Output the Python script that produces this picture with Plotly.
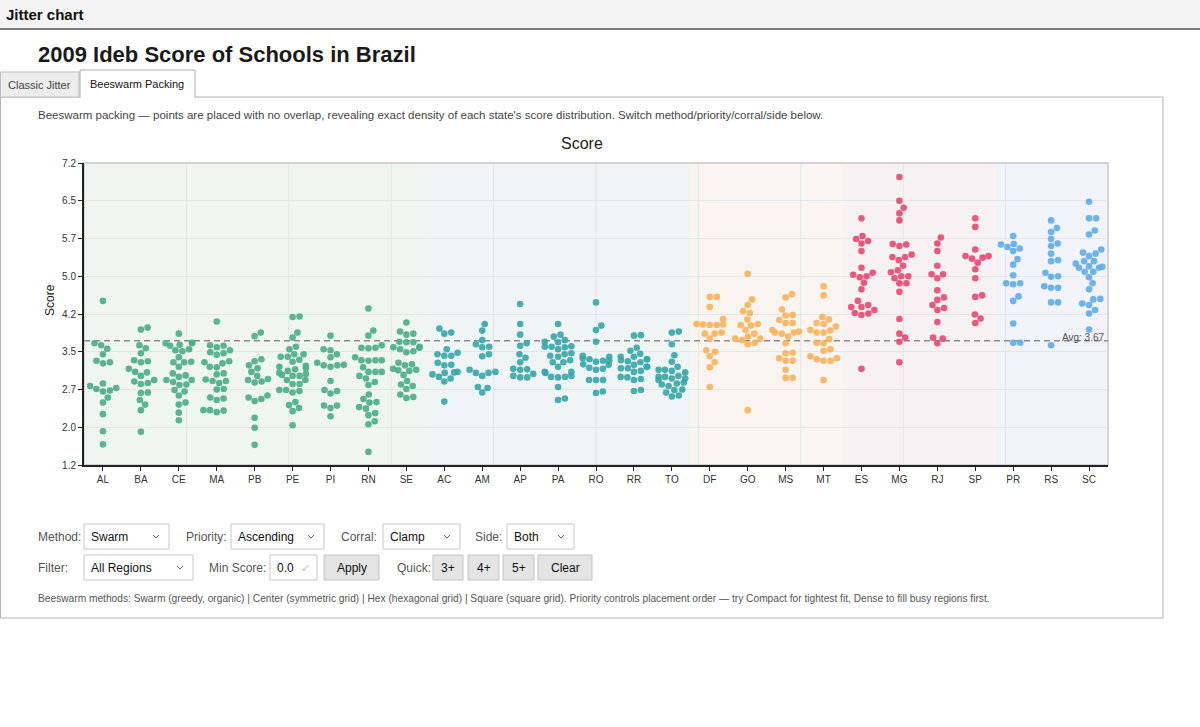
import math
import plotly.graph_objects as go

# ---------------- data ----------------
STATES = ["AL", "BA", "CE", "MA", "PB", "PE", "PI", "RN", "SE",
          "AC", "AM", "AP", "PA", "RO", "RR", "TO",
          "DF", "GO", "MS", "MT",
          "ES", "MG", "RJ", "SP",
          "PR", "RS", "SC"]
STATE_REGION = ["Northeast"] * 9 + ["North"] * 7 + ["Center-West"] * 4 + ["Southeast"] * 4 + ["South"] * 3
REGIONS = ["Northeast", "North", "Center-West", "Southeast", "South"]
REGION_COLORS = ["#4dae8b", "#3aa7a9", "#f8b35d", "#e84c73", "#62aee9"]
REGION_BANDS = ["#eff5f1", "#eff4f5", "#f8f4ef", "#f6f1f2", "#f1f3f8"]

AL = [4.46, 3.62, 3.58, 3.51, 3.40, 3.27, 3.24, 3.22, 2.82, 2.77, 2.73, 2.71, 2.68, 2.66, 2.54, 2.44, 2.21, 1.87, 1.61]
BA = [3.93, 3.89, 3.58, 3.52, 3.42, 3.28, 3.26, 3.24, 3.11, 3.05, 3.04, 2.97, 2.89, 2.86, 2.83, 2.81, 2.64, 2.63, 2.49, 2.40, 2.29, 1.86]
CE = [3.81, 3.63, 3.62, 3.62, 3.59, 3.57, 3.50, 3.48, 3.46, 3.34, 3.25, 3.24, 3.24, 3.15, 3.02, 2.98, 2.95, 2.89, 2.89, 2.85, 2.80, 2.79, 2.69, 2.66, 2.58, 2.44, 2.40, 2.24, 2.09]
MA = [4.05, 3.58, 3.57, 3.54, 3.48, 3.44, 3.42, 3.39, 3.26, 3.24, 3.22, 3.15, 3.14, 3.02, 3.00, 2.90, 2.87, 2.87, 2.83, 2.71, 2.70, 2.54, 2.52, 2.49, 2.29, 2.29, 2.28, 2.25]
PB = [3.83, 3.76, 3.30, 3.26, 3.18, 3.12, 3.05, 2.97, 2.91, 2.89, 2.86, 2.84, 2.58, 2.54, 2.51, 2.47, 2.14, 1.94, 1.60]
PE = [4.15, 4.14, 3.83, 3.73, 3.55, 3.50, 3.40, 3.40, 3.35, 3.35, 3.29, 3.25, 3.17, 3.15, 3.12, 3.10, 3.07, 3.03, 3.01, 2.99, 2.97, 2.97, 2.89, 2.89, 2.81, 2.81, 2.69, 2.69, 2.67, 2.64, 2.45, 2.39, 2.33, 2.27, 1.99]
PI = [3.77, 3.50, 3.48, 3.40, 3.34, 3.23, 3.19, 3.18, 3.18, 3.15, 2.87, 2.69, 2.67, 2.62, 2.38, 2.38, 2.33, 2.17]
RN = [4.31, 3.87, 3.77, 3.58, 3.53, 3.53, 3.52, 3.34, 3.28, 3.28, 3.28, 3.27, 3.14, 3.05, 3.05, 3.05, 2.97, 2.92, 2.85, 2.79, 2.60, 2.51, 2.45, 2.44, 2.35, 2.32, 2.23, 2.19, 2.07, 2.01, 1.46]
SE = [4.03, 3.85, 3.81, 3.79, 3.65, 3.64, 3.64, 3.55, 3.54, 3.53, 3.50, 3.46, 3.44, 3.23, 3.20, 3.18, 3.11, 3.09, 3.08, 3.07, 2.99, 2.87, 2.80, 2.77, 2.71, 2.60, 2.55, 2.53]
AC = [3.91, 3.83, 3.81, 3.50, 3.43, 3.40, 3.37, 3.37, 3.23, 3.19, 3.18, 3.05, 3.04, 3.03, 3.00, 2.95, 2.92, 2.86, 2.46]
AM = [4.00, 3.87, 3.68, 3.60, 3.55, 3.54, 3.40, 3.36, 3.09, 3.05, 3.03, 3.03, 2.97, 2.75, 2.73, 2.64]
AP = [4.40, 4.00, 3.79, 3.62, 3.57, 3.40, 3.33, 3.24, 3.11, 3.10, 3.09, 3.01, 2.97, 2.94, 2.94]
PA = [4.00, 3.79, 3.75, 3.68, 3.65, 3.64, 3.56, 3.55, 3.55, 3.54, 3.50, 3.42, 3.40, 3.37, 3.35, 3.28, 3.24, 3.24, 3.15, 3.05, 3.05, 3.03, 2.97, 2.95, 2.95, 2.94, 2.75, 2.52, 2.49]
RO = [4.43, 3.97, 3.88, 3.65, 3.37, 3.35, 3.32, 3.30, 3.27, 3.27, 3.25, 3.20, 3.19, 3.13, 3.11, 3.09, 2.89, 2.89, 2.89, 2.66, 2.63]
RR = [3.78, 3.77, 3.53, 3.47, 3.41, 3.35, 3.35, 3.30, 3.30, 3.28, 3.26, 3.24, 3.19, 3.15, 3.15, 3.12, 3.12, 3.07, 3.05, 2.95, 2.94, 2.91, 2.89, 2.69, 2.67]
TO = [3.85, 3.83, 3.60, 3.38, 3.25, 3.15, 3.09, 3.09, 3.07, 3.04, 2.97, 2.95, 2.95, 2.92, 2.92, 2.89, 2.84, 2.82, 2.80, 2.77, 2.70, 2.69, 2.64, 2.58, 2.56]
DF = [4.54, 4.54, 4.34, 4.10, 4.00, 3.99, 3.99, 3.98, 3.98, 3.83, 3.81, 3.81, 3.71, 3.48, 3.45, 3.36, 3.24, 3.14, 2.75]
GO = [5.00, 4.49, 4.38, 4.26, 4.22, 4.09, 4.00, 3.98, 3.97, 3.88, 3.81, 3.75, 3.71, 3.71, 3.68, 3.63, 3.60, 2.29]
MS = [4.59, 4.53, 4.29, 4.18, 4.17, 4.08, 4.02, 4.02, 3.88, 3.85, 3.83, 3.83, 3.81, 3.75, 3.62, 3.43, 3.42, 3.32, 3.27, 3.27, 3.09, 2.93, 2.93]
MT = [4.75, 4.57, 4.14, 4.09, 4.02, 4.00, 3.95, 3.88, 3.87, 3.83, 3.83, 3.70, 3.63, 3.62, 3.50, 3.47, 3.36, 3.32, 3.30, 3.27, 3.27, 2.89]
ES = [6.10, 5.75, 5.69, 5.65, 5.60, 5.45, 5.12, 5.02, 4.98, 4.95, 4.93, 4.82, 4.69, 4.46, 4.38, 4.34, 4.34, 4.28, 4.22, 4.21, 4.18, 3.11]
MG = [6.92, 6.45, 6.31, 6.20, 6.06, 5.59, 5.58, 5.55, 5.38, 5.33, 5.33, 5.27, 5.16, 5.07, 5.03, 4.95, 4.95, 4.91, 4.81, 4.81, 4.64, 4.10, 3.81, 3.73, 3.65, 3.24]
RJ = [5.72, 5.60, 5.45, 5.16, 4.99, 4.99, 4.91, 4.67, 4.53, 4.48, 4.38, 4.32, 4.28, 4.04, 3.73, 3.71, 3.62]
SP = [6.10, 5.93, 5.48, 5.35, 5.35, 5.32, 5.30, 5.22, 5.09, 4.91, 4.57, 4.54, 4.19, 4.11, 4.02]
PR = [5.75, 5.59, 5.58, 5.53, 5.50, 5.45, 5.29, 5.18, 4.97, 4.81, 4.81, 4.79, 4.55, 4.46, 4.01, 3.63, 3.63]
RS = [6.06, 5.91, 5.83, 5.69, 5.60, 5.55, 5.40, 5.27, 5.25, 5.02, 4.95, 4.94, 4.75, 4.72, 4.72, 4.43, 4.43, 3.58]
SC = [6.43, 6.10, 6.10, 5.86, 5.78, 5.48, 5.42, 5.40, 5.35, 5.25, 5.25, 5.20, 5.15, 5.14, 5.12, 5.12, 5.04, 5.04, 4.93, 4.81, 4.69, 4.50, 4.49, 4.41, 4.38, 4.28, 4.21, 3.89]

SCORE_LISTS = [AL, BA, CE, MA, PB, PE, PI, RN, SE, AC, AM, AP, PA, RO, RR, TO,
               DF, GO, MS, MT, ES, MG, RJ, SP, PR, RS, SC]

AVG_SCORE = 3.67
Y_RANGE = [1.2, 7.2]
Y_TICKS = [1.2, 1.95, 2.7, 3.45, 4.2, 4.95, 5.7, 6.45, 7.2]
Y_TICK_TEXT = ["1.2", "2.0", "2.7", "3.5", "4.2", "5.0", "5.7", "6.5", "7.2"]

# ---------------- geometry ----------------
W, H = 1200, 727
ML, MR, MT_, MB = 84, 92, 163, 262
PW = W - ML - MR
PH = H - MT_ - MB
CAT_PX = PW / len(STATES)
VAL_PX = PH / (Y_RANGE[1] - Y_RANGE[0])
DIAM = 7.0
CLAMP = 0.35 * CAT_PX


def X(px):
    return (px - ML) / PW


def Y(py):
    return (H - MB - py) / PH


def swarm(vals):
    order = sorted(range(len(vals)), key=lambda i: vals[i])
    placed = []
    offs = [0.0] * len(vals)
    for i in order:
        y = vals[i] * VAL_PX
        near = [(px, py) for px, py in placed if abs(py - y) < DIAM]
        cands = [0.0]
        for px, py in near:
            dx = math.sqrt(max(DIAM ** 2 - (py - y) ** 2, 0))
            cands += [px + dx, px - dx]
        cands.sort(key=abs)
        x = cands[-1]
        for c in cands:
            if all((c - px) ** 2 + (py - y) ** 2 >= DIAM ** 2 - 1e-6 for px, py in near):
                x = c
                break
        x = max(-CLAMP, min(CLAMP, x))
        placed.append((x, y))
        offs[i] = x
    return offs


fig = go.Figure()

for r, region in enumerate(REGIONS):
    xs, ys, tx = [], [], []
    for i, st in enumerate(STATES):
        if STATE_REGION[i] != region:
            continue
        vals = SCORE_LISTS[i]
        offs = swarm(vals)
        for v, o in zip(vals, offs):
            xs.append(i + o / CAT_PX)
            ys.append(v)
            tx.append(st)
    fig.add_trace(go.Scatter(
        x=xs, y=ys, mode="markers", name=region, text=tx,
        marker=dict(size=6.6, color=REGION_COLORS[r], opacity=0.92, line=dict(width=0)),
        hovertemplate="%{text}: %{y:.2f}<extra></extra>", showlegend=False))

shapes = []
# region bands
for r, region in enumerate(REGIONS):
    idx = [i for i, s in enumerate(STATE_REGION) if s == region]
    shapes.append(dict(type="rect", xref="x", yref="paper", x0=min(idx) - 0.5, x1=max(idx) + 0.5,
                       y0=0, y1=1, fillcolor=REGION_BANDS[r], line=dict(width=0), layer="below"))
# vertical grid (10 divisions)
for k in range(1, 10):
    shapes.append(dict(type="line", xref="paper", yref="paper", x0=k / 10, x1=k / 10, y0=0, y1=1,
                       line=dict(color="#e3e7e6", width=1), layer="between"))
# frame
shapes.append(dict(type="rect", xref="paper", yref="paper", x0=0, x1=1, y0=0, y1=1,
                   line=dict(color="#d3d3d3", width=2), layer="between"))
# average line
shapes.append(dict(type="line", xref="paper", yref="y", x0=0, x1=1, y0=AVG_SCORE, y1=AVG_SCORE,
                   line=dict(color="#8c8c8c", width=1.5, dash="6px,4px"), layer="between"))


def prect(x0, y0, x1, y1, fill="rgba(0,0,0,0)", line="#bbbbbb", lw=1, layer="below"):
    shapes.append(dict(type="rect", xref="paper", yref="paper", x0=X(x0), x1=X(x1), y0=Y(y1), y1=Y(y0),
                       fillcolor=fill, line=dict(color=line, width=lw), layer=layer))


def pline(x0, y0, x1, y1, color, lw=1):
    shapes.append(dict(type="line", xref="paper", yref="paper", x0=X(x0), x1=X(x1), y0=Y(y0), y1=Y(y1),
                       line=dict(color=color, width=lw), layer="below"))


def chevron(cx, cy, color="#666666"):
    p = "M {} {} L {} {} L {} {}".format(X(cx - 3), Y(cy - 1.5), X(cx), Y(cy + 1.5), X(cx + 3), Y(cy - 1.5))
    shapes.append(dict(type="path", xref="paper", yref="paper", path=p,
                       line=dict(color=color, width=1), layer="below"))


# top bar
prect(0, 0, 1200, 28, fill="#f4f4f4", line="rgba(0,0,0,0)", lw=0)
pline(0, 29, 1200, 29, "#7d7d7d", 2)
# panel
prect(0.5, 97, 1163, 618, line="#b4b4b4", lw=1)
# tabs
prect(0.5, 72, 79, 97, fill="#ececec", line="#bdbdbd", lw=1)
prect(80, 70, 195, 97, fill="#ffffff", line="#adadad", lw=1)
pline(80.6, 97, 194.4, 97, "#ffffff", 2)

# controls
BOX = "#c6c6c6"
for (x0, x1) in [(84, 169), (231, 324), (383, 460), (507, 574)]:
    prect(x0, 524, x1, 549, fill="#ffffff", line=BOX)
    chevron(x1 - 13, 536.5)
prect(84, 555, 193, 580, fill="#ffffff", line=BOX)
chevron(180, 567.5)
prect(270, 555, 317, 580, fill="#ffffff", line=BOX)
for (x0, x1) in [(324, 379), (433, 463), (468, 499), (503, 534), (538, 592)]:
    prect(x0, 555, x1, 580, fill="#e4e4e4", line="#c2c2c2")

FONT = "Liberation Sans, Arial, sans-serif"
ann = []


def text(px, py, s, size=12, color="#333333", anchor="left", bold=False, angle=0):
    if bold:
        s = "<b>" + s + "</b>"
    ann.append(dict(xref="paper", yref="paper", x=X(px), y=Y(py), text=s, showarrow=False,
                    xanchor=anchor, yanchor="middle", textangle=angle,
                    font=dict(family=FONT, size=size, color=color), borderpad=0))


text(5, 14, "Jitter chart", 15, "#111111", bold=True)
text(37, 55, "2009 Ideb Score of Schools in Brazil", 22, "#1a1a1a", bold=True)
text(7, 84.5, "Classic Jitter", 11, "#444444")
text(89, 84, "Beeswarm Packing", 11, "#111111")
text(37, 115, "Beeswarm packing \u2014 points are placed with no overlap, revealing exact density of each state's "
              "score distribution. Switch method/priority/corral/side below.", 11.5, "#444444")
text(582, 143, "Score", 16, "#222222", anchor="center")
text(50, 300, "Score", 12, "#222222", anchor="center", angle=-90)
text(1106, 337.5, "Avg: 3.67", 10, "#555555", anchor="right")

text(37, 536.5, "Method:", 12, "#555555")
text(90, 536.5, "Swarm", 12, "#111111")
text(185, 536.5, "Priority:", 12, "#555555")
text(237, 536.5, "Ascending", 12, "#111111")
text(340, 536.5, "Corral:", 12, "#555555")
text(389, 536.5, "Clamp", 12, "#111111")
text(474, 536.5, "Side:", 12, "#555555")
text(513, 536.5, "Both", 12, "#111111")

text(37, 567.5, "Filter:", 12, "#555555")
text(90, 567.5, "All Regions", 12, "#111111")
text(208, 567.5, "Min Score:", 12, "#555555")
text(276, 567.5, "0.0", 12, "#111111")
text(300, 567.5, "\u2713", 11, "#b8b8b8")
text(351.5, 567.5, "Apply", 12, "#111111", anchor="center")
text(396, 567.5, "Quick:", 12, "#555555")
text(448, 567.5, "3+", 12, "#111111", anchor="center")
text(483.5, 567.5, "4+", 12, "#111111", anchor="center")
text(518.5, 567.5, "5+", 12, "#111111", anchor="center")
text(565, 567.5, "Clear", 12, "#111111", anchor="center")

text(37, 598.5, "Beeswarm methods: Swarm (greedy, organic) | Center (symmetric grid) | Hex (hexagonal grid) | "
                "Square (square grid). Priority controls placement order \u2014 try Compact for tightest fit, "
                "Dense to fill busy regions first.", 10.2, "#555555")

fig.update_layout(
    width=W, height=H, autosize=False,
    margin=dict(l=ML, r=MR, t=MT_, b=MB, pad=0),
    paper_bgcolor="#ffffff", plot_bgcolor="#ffffff",
    shapes=shapes, annotations=ann, showlegend=False,
    font=dict(family=FONT, size=10, color="#333333"),
    xaxis=dict(range=[-0.5, len(STATES) - 0.5], tickmode="array", tickvals=list(range(len(STATES))),
               ticktext=STATES, showgrid=False, zeroline=False, showline=True, linecolor="#222222",
               linewidth=2, ticks="outside", ticklen=4, tickcolor="#222222", tickwidth=1,
               tickfont=dict(size=10, color="#333333"), fixedrange=True),
    yaxis=dict(range=Y_RANGE, tickmode="array", tickvals=Y_TICKS, ticktext=Y_TICK_TEXT,
               showgrid=True, gridcolor="#e3e7e6", gridwidth=1, zeroline=False, showline=True,
               linecolor="#222222", linewidth=2, ticks="outside", ticklen=4, tickcolor="#222222",
               tickwidth=1, tickfont=dict(size=10, color="#333333"), fixedrange=True),
)

fig.write_html("out.html", config={"displayModeBar": False})
